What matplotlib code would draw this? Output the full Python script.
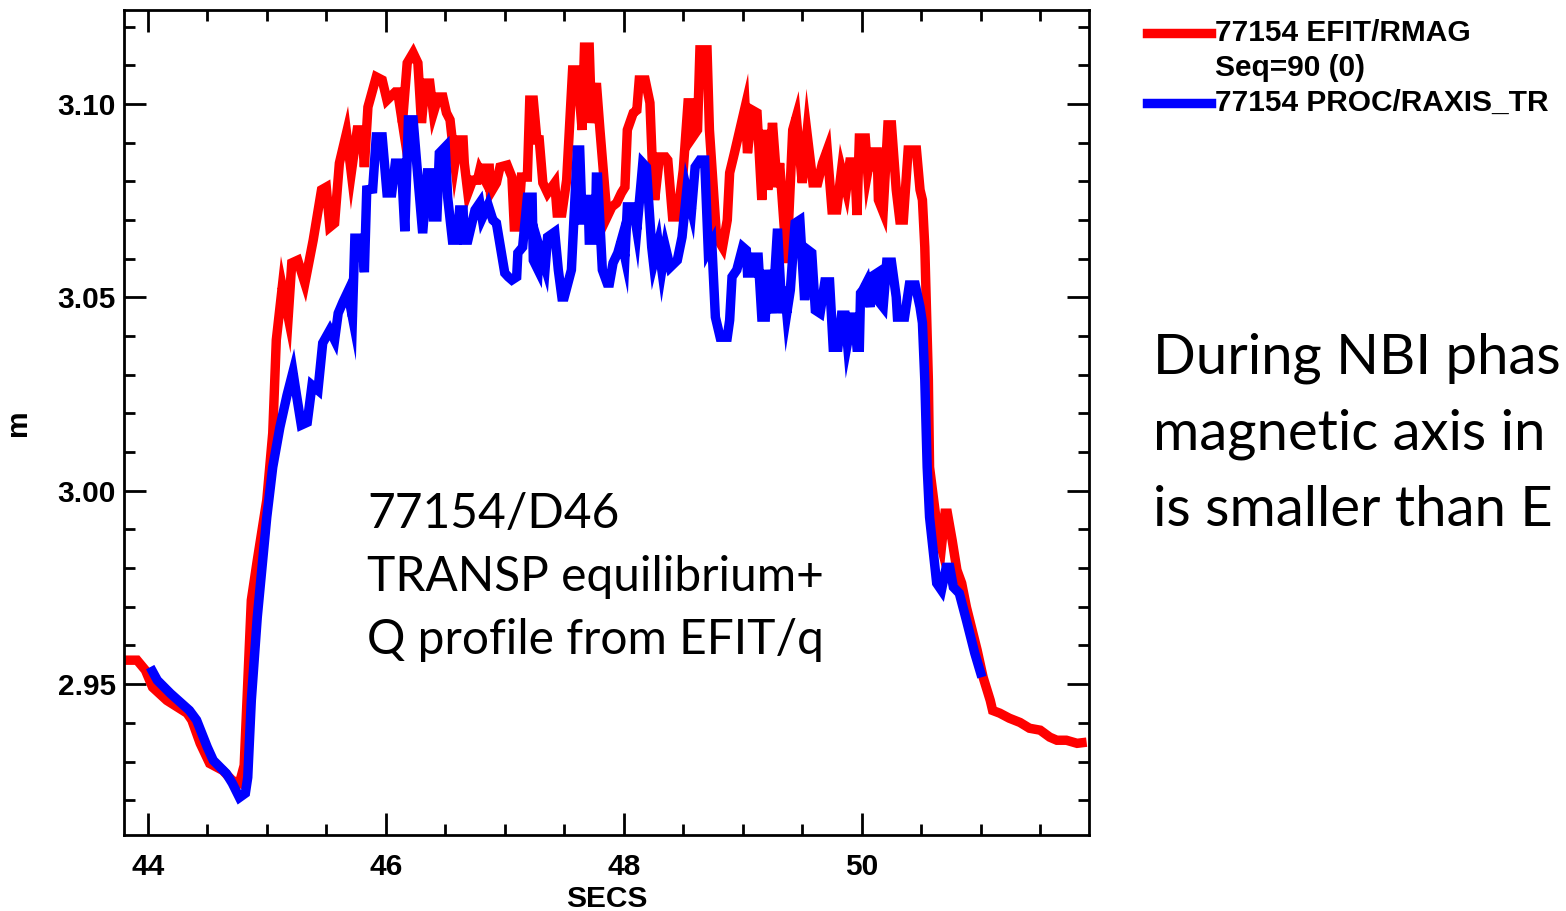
import matplotlib
matplotlib.use('Agg')
import matplotlib.pyplot as plt
from matplotlib.lines import Line2D
from matplotlib.ticker import MultipleLocator

# EFIT/RMAG (red)
efit_t = [43.80, 43.91, 43.98, 44.04, 44.16, 44.33, 44.37, 44.44, 44.52, 44.63,
          44.71, 44.77, 44.81, 44.87, 44.92, 45.00, 45.05, 45.08, 45.13, 45.18,
          45.21, 45.26, 45.32, 45.39, 45.46, 45.50, 45.53, 45.57, 45.61, 45.67,
          45.71, 45.76, 45.80, 45.82, 45.85, 45.92, 45.97, 46.01, 46.08, 46.10,
          46.14, 46.18, 46.23, 46.27, 46.30, 46.33, 46.37, 46.40, 46.44, 46.48,
          46.51, 46.54, 46.58, 46.61, 46.65, 46.66, 46.69, 46.73, 46.77, 46.79,
          46.82, 46.83, 46.87, 46.88, 46.93, 46.96, 47.02, 47.06, 47.08, 47.11,
          47.14, 47.19, 47.21, 47.24, 47.27, 47.29, 47.32, 47.36, 47.42, 47.44,
          47.48, 47.52, 47.57, 47.61, 47.65, 47.67, 47.71, 47.73, 47.77, 47.80,
          47.86, 47.90, 47.94, 47.98, 48.01, 48.03, 48.08, 48.11, 48.13, 48.18,
          48.22, 48.24, 48.26, 48.30, 48.35, 48.37, 48.41, 48.45, 48.50, 48.54,
          48.57, 48.58, 48.62, 48.64, 48.70, 48.72, 48.78, 48.83, 48.87, 48.89,
          48.93, 49.02, 49.04, 49.08, 49.12, 49.16, 49.19, 49.21, 49.25, 49.29,
          49.31, 49.37, 49.42, 49.45, 49.50, 49.54, 49.59, 49.63, 49.67, 49.71,
          49.75, 49.79, 49.83, 49.87, 49.90, 49.94, 49.96, 49.98, 50.03, 50.05,
          50.08, 50.13, 50.14, 50.18, 50.22, 50.25, 50.29, 50.32, 50.35, 50.39,
          50.46, 50.49, 50.51, 50.53, 50.56, 50.57, 50.64, 50.67, 50.70, 50.72,
          50.76, 50.80, 50.84, 50.88, 50.97, 51.02, 51.08, 51.10, 51.16, 51.24,
          51.33, 51.41, 51.50, 51.58, 51.64, 51.72, 51.81, 51.89]
efit_r = [2.9562, 2.9562, 2.9536, 2.9492, 2.9458, 2.9425, 2.9407, 2.9347, 2.9295, 2.9277,
          2.9251, 2.9244, 2.9290, 2.9717, 2.9820, 2.9976, 3.0149, 3.0390, 3.0527, 3.0449,
          3.0589, 3.0596, 3.0537, 3.0648, 3.0778, 3.0785, 3.0682, 3.0692, 3.0847, 3.0925,
          3.0822, 3.0933, 3.0933, 3.0837, 3.0992, 3.1070, 3.1062, 3.1010, 3.1031, 3.1031,
          3.0951, 3.1106, 3.1132, 3.1106, 3.0951, 3.1054, 3.1054, 3.0977, 3.1018, 3.1018,
          3.0977, 3.0959, 3.0847, 3.0907, 3.0907, 3.0847, 3.0770, 3.0803, 3.0803, 3.0829,
          3.0811, 3.0834, 3.0834, 3.0770, 3.0796, 3.0837, 3.0842, 3.0811, 3.0682, 3.0682,
          3.0811, 3.0811, 3.1010, 3.1010, 3.0907, 3.0907, 3.0796, 3.0770, 3.0796, 3.0718,
          3.0718, 3.0803, 3.1088, 3.1088, 3.0933, 3.1147, 3.1147, 3.0951, 3.1054, 3.0933,
          3.0708, 3.0734, 3.0744, 3.0770, 3.0785, 3.0933, 3.0977, 3.0984, 3.1062, 3.1062,
          3.1003, 3.0847, 3.0752, 3.0863, 3.0863, 3.0855, 3.0708, 3.0708, 3.0829, 3.1003,
          3.1003, 3.0915, 3.0933, 3.1140, 3.1140, 3.0933, 3.0656, 3.0630, 3.0700, 3.0822,
          3.0873, 3.0992, 3.0873, 3.0984, 3.0977, 3.0752, 3.0933, 3.0778, 3.0951, 3.0785,
          3.0847, 3.0589, 3.0933, 3.0966, 3.0796, 3.0925, 3.0796, 3.0796, 3.0847, 3.0881,
          3.0726, 3.0726, 3.0829, 3.0778, 3.0850, 3.0850, 3.0713, 3.0912, 3.0912, 3.0824,
          3.0876, 3.0876, 3.0752, 3.0721, 3.0946, 3.0946, 3.0778, 3.0700, 3.0700, 3.0881,
          3.0881, 3.0778, 3.0752, 3.0630, 3.0286, 3.0061, 2.9890, 2.9854, 2.9942, 2.9942,
          2.9872, 2.9795, 2.9761, 2.9699, 2.9588, 2.9518, 2.9458, 2.9432, 2.9425, 2.9412,
          2.9401, 2.9386, 2.9381, 2.9363, 2.9355, 2.9355, 2.9347, 2.9350]

# PROC/RAXIS_TR (blue)
raxis_t = [44.02, 44.08, 44.19, 44.35, 44.41, 44.50, 44.55, 44.66, 44.71, 44.77,
           44.82, 44.84, 44.87, 44.92, 45.00, 45.05, 45.11, 45.17, 45.22, 45.25,
           45.29, 45.34, 45.38, 45.43, 45.47, 45.53, 45.57, 45.60, 45.64, 45.68,
           45.72, 45.74, 45.80, 45.82, 45.84, 45.89, 45.92, 45.97, 46.01, 46.05,
           46.08, 46.13, 46.16, 46.19, 46.23, 46.26, 46.31, 46.35, 46.39, 46.40,
           46.43, 46.45, 46.50, 46.52, 46.56, 46.60, 46.62, 46.65, 46.66, 46.69,
           46.75, 46.79, 46.81, 46.86, 46.90, 46.93, 47.00, 47.03, 47.06, 47.10,
           47.11, 47.15, 47.19, 47.23, 47.24, 47.28, 47.29, 47.34, 47.36, 47.42,
           47.45, 47.48, 47.50, 47.56, 47.61, 47.63, 47.65, 47.69, 47.70, 47.71,
           47.76, 47.77, 47.78, 47.82, 47.86, 47.88, 47.91, 47.95, 47.98, 48.01,
           48.03, 48.08, 48.11, 48.16, 48.19, 48.235, 48.25, 48.29, 48.32, 48.35,
           48.39, 48.45, 48.49, 48.53, 48.57, 48.60, 48.64, 48.68, 48.71, 48.74,
           48.77, 48.81, 48.87, 48.89, 48.91, 48.95, 49.00, 49.03, 49.04, 49.08,
           49.10, 49.13, 49.16, 49.19, 49.21, 49.25, 49.29, 49.294, 49.33, 49.35,
           49.37, 49.40, 49.44, 49.48, 49.52, 49.55, 49.58, 49.61, 49.65, 49.69,
           49.73, 49.76, 49.80, 49.83, 49.86, 49.88, 49.92, 49.94, 49.96, 49.98,
           49.99, 50.01, 50.04, 50.07, 50.08, 50.13, 50.134, 50.18, 50.21, 50.25,
           50.29, 50.30, 50.36, 50.40, 50.45, 50.49, 50.51, 50.53, 50.55, 50.57,
           50.63, 50.67, 50.71, 50.74, 50.77, 50.82, 50.88, 50.95, 51.01]
raxis_r = [2.9544, 2.9510, 2.9476, 2.9432, 2.9407, 2.9337, 2.9303, 2.9269, 2.9244, 2.9207,
           2.9218, 2.9259, 2.9458, 2.9673, 2.9932, 3.0061, 3.0164, 3.0247, 3.0307, 3.0247,
           3.0170, 3.0177, 3.0273, 3.0260, 3.0382, 3.0415, 3.0390, 3.0459, 3.0488, 3.0514,
           3.0449, 3.0653, 3.0653, 3.0565, 3.0778, 3.0780, 3.0915, 3.0915, 3.0770, 3.0770,
           3.0847, 3.0847, 3.0671, 3.0959, 3.0959, 3.0847, 3.0666, 3.0822, 3.0822, 3.0708,
           3.0708, 3.0873, 3.0889, 3.0759, 3.0648, 3.0648, 3.0726, 3.0726, 3.0648, 3.0648,
           3.0726, 3.0744, 3.0705, 3.0739, 3.0700, 3.0692, 3.0563, 3.0553, 3.0545, 3.0553,
           3.0615, 3.0630, 3.0759, 3.0759, 3.0596, 3.0571, 3.0630, 3.0578, 3.0656, 3.0669,
           3.0571, 3.0501, 3.0501, 3.0571, 3.0881, 3.0881, 3.0700, 3.0700, 3.0765, 3.0648,
           3.0648, 3.0811, 3.0811, 3.0571, 3.0537, 3.0537, 3.0589, 3.0615, 3.0648, 3.0604,
           3.0734, 3.0734, 3.0674, 3.0847, 3.0837, 3.0630, 3.0589, 3.0640, 3.0571, 3.0630,
           3.0578, 3.0596, 3.0656, 3.0778, 3.0726, 3.0837, 3.0855, 3.0855, 3.0622, 3.0640,
           3.0449, 3.0397, 3.0397, 3.0441, 3.0553, 3.0571, 3.0630, 3.0622, 3.0563, 3.0563,
           3.0604, 3.0604, 3.0449, 3.0449, 3.0571, 3.0459, 3.0666, 3.0666, 3.0459, 3.0527,
           3.0459, 3.0519, 3.0692, 3.0700, 3.0493, 3.0622, 3.0615, 3.0467, 3.0459, 3.0540,
           3.0540, 3.0371, 3.0371, 3.0454, 3.0454, 3.0382, 3.0449, 3.0449, 3.0371, 3.0371,
           3.0511, 3.0519, 3.0537, 3.0475, 3.0553, 3.0563, 3.0493, 3.0475, 3.0591, 3.0591,
           3.0501, 3.0449, 3.0449, 3.0532, 3.0532, 3.0475, 3.0434, 3.0286, 3.0061, 2.9932,
           2.9761, 2.9743, 2.9802, 2.9802, 2.9751, 2.9735, 2.9665, 2.9580, 2.9518]

legend_labels = ['77154 EFIT/RMAG', 'Seq=90 (0)', '77154 PROC/RAXIS_TR']
note_lines = ['77154/D46', 'TRANSP equilibrium+', 'Q profile from EFIT/q']
side_lines = ['During NBI phas', 'magnetic axis in', 'is smaller than E']

W, H = 1566, 911
fig = plt.figure(figsize=(W / 100, H / 100), dpi=100)
ax = fig.add_axes([124 / W, 1 - 835 / H, (1089 - 124) / W, (835 - 10) / H])

lw = 6.8
ax.plot(efit_t, efit_r, color='#ff0000', lw=lw, solid_joinstyle='miter', solid_capstyle='butt')
ax.plot(raxis_t, raxis_r, color='#0000ff', lw=lw, solid_joinstyle='miter', solid_capstyle='butt')

ax.set_xlim(43.80, 51.91)
ax.set_ylim(2.911, 3.1243)

tick_font = {'family': 'Liberation Sans', 'weight': 'bold', 'size': 21.5}
ax.xaxis.set_minor_locator(MultipleLocator(0.5))
ax.yaxis.set_minor_locator(MultipleLocator(0.01))
ax.set_yticks([2.95, 3.00, 3.05, 3.10])
ax.set_yticklabels(['2.95', '3.00', '3.05', '3.10'], fontdict=tick_font)
ax.set_xticks([44, 46, 48, 50])
ax.set_xticklabels(['44', '46', '48', '50'], fontdict=tick_font)
ax.tick_params(which='both', direction='in', top=True, right=True, width=2, color='black')
ax.tick_params(which='major', length=16)
ax.tick_params(which='minor', length=8)
ax.tick_params(axis='x', which='major', pad=13)
ax.tick_params(axis='y', which='major', pad=6)
for s in ax.spines.values():
    s.set_linewidth(2)

ax.set_xlabel('SECS', fontdict=tick_font, labelpad=3)
ax.set_ylabel('m', fontdict=tick_font, labelpad=18)

# annotation inside the plot
note_font = {'family': 'Lato', 'size': 34.5}
for i, line in enumerate(note_lines):
    fig.text(367 / W, 1 - (514 + 63 * i) / H, line, ha='left', va='center', fontdict=note_font)

# text on the right (runs to the edge of the slide in the original)
side_font = {'family': 'Lato', 'size': 40.5}
for i, line in enumerate(side_lines):
    fig.text(1153 / W, 1 - (358 + 76 * i) / H, line, ha='left', va='center', fontdict=side_font)

# legend drawn by hand, as in the original
leg_font = {'family': 'Liberation Sans', 'weight': 'bold', 'size': 21.5}
fig.add_artist(Line2D([1147 / W, 1211 / W], [1 - 33 / H, 1 - 33 / H], color='#ff0000', lw=lw))
fig.add_artist(Line2D([1147 / W, 1211 / W], [1 - 103 / H, 1 - 103 / H], color='#0000ff', lw=lw))
fig.text(1215 / W, 1 - 33 / H, legend_labels[0], ha='left', va='center', fontdict=leg_font)
fig.text(1215 / W, 1 - 68 / H, legend_labels[1], ha='left', va='center', fontdict=leg_font)
fig.text(1215 / W, 1 - 103 / H, legend_labels[2], ha='left', va='center', fontdict=leg_font)

fig.savefig('out.png', dpi=100)
